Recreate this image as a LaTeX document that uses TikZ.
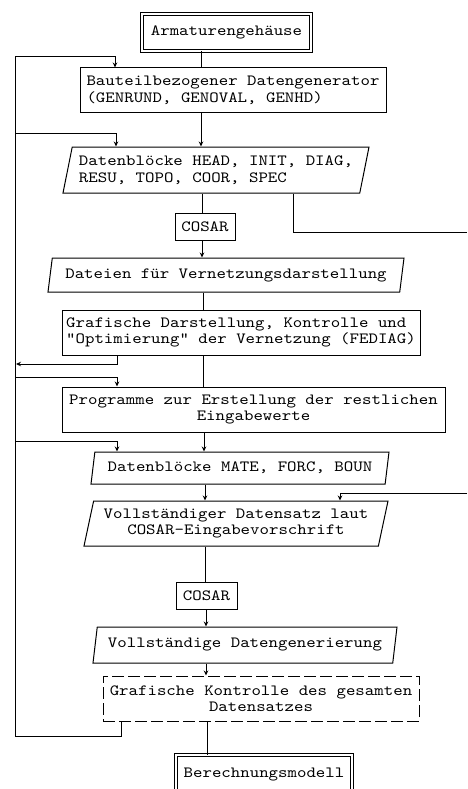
\documentclass[tikz,border=0pt]{standalone}
\usepackage{fontspec}
\newfontfamily\typew{lmmono10-regular}[Extension=.otf,FakeStretch=1.154]
\usetikzlibrary{shapes.geometric,arrows.meta}
\tikzset{
  txt/.style={font=\typew\fontsize{15.6}{16.5}\selectfont},
  box/.style={txt,draw,rectangle,line width=1pt,inner sep=0pt,align=center},
  dbox/.style={box,double,double distance=2.6pt,line width=0.9pt},
  para/.style={txt,draw,trapezium,trapezium left angle=72,trapezium right angle=108,
    trapezium stretches body,line width=1pt,inner sep=0pt,align=center},
  con/.style={line width=1pt},
  arr/.style={con,-{Stealth[length=5pt,width=4.5pt]}},
}
\begin{document}
\begin{tikzpicture}[x=1pt,y=-1pt]
\useasboundingbox (0,0) rectangle (467,789);
\fill[white] (0,0) rectangle (467,789);
\clip (0,0) rectangle (467,789);
% nodes
\node[dbox,minimum width=169,minimum height=37] (n1) at (226.5,32.5) {Armaturengehäuse};
\node[box,minimum width=306,minimum height=45,align=left] (n2) at (233,90.5) {Bauteilbezogener Datengenerator\\(GENRUND, GENOVAL, GENHD)};
\node[para,minimum width=306,minimum height=46,align=left] (n3) at (216,170) {Datenblöcke HEAD, INIT, DIAG,\\RESU, TOPO, COOR, SPEC};
\node[box,minimum width=60,minimum height=27] (c1) at (205,226.5) {COSAR};
\node[para,minimum width=356,minimum height=34] (n4) at (226,275) {Dateien für Vernetzungsdarstellung};
\node[box,minimum width=358,minimum height=45,align=left] (n5) at (241,332.5) {Grafische Darstellung, Kontrolle und\\"Optimierung" der Vernetzung (FEDIAG)};
\node[box,minimum width=383,minimum height=45] (n6) at (253.5,409.5) {Programme zur Erstellung der restlichen\\Eingabewerte};
\node[para,minimum width=298,minimum height=32] (n7) at (240,468) {Datenblöcke MATE, FORC, BOUN};
\node[para,minimum width=304,minimum height=45] (n8) at (236,523.5) {Vollständiger Datensatz laut\\COSAR-Eingabevorschrift};
\node[box,minimum width=61,minimum height=27] (c2) at (206.5,595.5) {COSAR};
\node[para,minimum width=304,minimum height=36] (n9) at (245,645) {Vollständige Datengenerierung};
\node[box,dash pattern=on 12pt off 4pt,minimum width=316,minimum height=45] (n10) at (261,698.5) {Grafische Kontrolle des gesamten\\Datensatzes};
\node[dbox,minimum width=176,minimum height=39] (n11) at (264,774.5) {Berechnungsmodell};
% column x positions
\coordinate (x1) at (201,0);
\coordinate (x2) at (202,0);
\coordinate (x3) at (203,0);
\coordinate (x4) at (204,0);
\coordinate (x5) at (205,0);
\coordinate (x6) at (206,0);
\coordinate (x7) at (207,0);
\coordinate (xl) at (15,0);
\coordinate (xa) at (115,0);
\coordinate (xb) at (116,0);
\coordinate (xc) at (117,0);
\coordinate (xd) at (121,0);
\coordinate (xr) at (293,0);
\coordinate (xs) at (340,0);
\coordinate (r1) at (467,232);
\coordinate (r2) at (467,493);
% main flow
\draw[con] (n1.south -| x1) -- (n2.north -| x1);
\draw[arr] (n2.south -| x1) -- (n3.north -| x1);
\draw[con] (n3.south -| x2) -- (c1.north -| x2);
\draw[arr] (c1.south -| x2) -- (n4.north -| x2);
\draw[con] (n4.south -| x3) -- (n5.north -| x3);
\draw[con] (n5.south -| x3) -- (n6.north -| x3);
\draw[arr] (n6.south -| x4) -- (n7.north -| x4);
\draw[arr] (n7.south -| x5) -- (n8.north -| x5);
\draw[con] (n8.south -| x5) -- (c2.north -| x5);
\draw[arr] (c2.south -| x6) -- (n9.north -| x6);
\draw[arr] (n9.south -| x6) -- (n10.north -| x6);
\draw[con] (n10.south -| x7) -- (n11.north -| x7);
% left feedback loop
\draw[arr] (n10.south -| xd) -- (xd |- 0,736) -- (xl |- 0,736) -- (xl |- 0,57) -- (xa |- 0,57) -- (n2.north -| xa);
\draw[arr] (xl |- 0,133) -- (xb |- 0,133) -- (n3.north -| xb);
\draw[arr] (n5.south -| xc) -- (xc |- 0,364) -- (16,364);
\draw[arr] (xl |- 0,377) -- (xc |- 0,377) -- (n6.north -| xc);
\draw[arr] (xl |- 0,441) -- (xc |- 0,441) -- (n7.north -| xc);
% right connection
\draw[con] (n3.south -| xr) -- (xr |- r1) -- (r1);
\draw[arr] (r2) -- (xs |- r2) -- (n8.north -| xs);
\end{tikzpicture}
\end{document}
